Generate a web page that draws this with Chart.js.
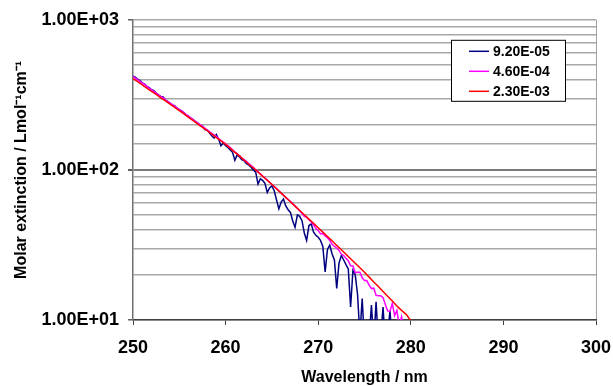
<!DOCTYPE html>
<html lang="en">
<head>
<meta charset="UTF-8">
<title>Molar extinction</title>
<style>
    body { margin: 0; background: #fff; }
    #wrap { width: 613px; height: 386px; position: relative; }
</style>
<script src="https://cdn.jsdelivr.net/npm/chart.js"></script>
</head>
<body>
<div id="wrap"><canvas id="chart"></canvas></div>
<script>
// wavelength grid (nm) used by the two noisy series
const wlFine = [
    250, 250.25, 250.5, 250.75, 251, 251.25, 251.5, 251.75, 252, 252.25, 252.5, 252.75,
    253, 253.25, 253.5, 253.75, 254, 254.25, 254.5, 254.75, 255, 255.25, 255.5, 255.75,
    256, 256.25, 256.5, 256.75, 257, 257.25, 257.5, 257.75, 258, 258.25, 258.5, 258.75,
    259, 259.25, 259.5, 259.75, 260, 260.25, 260.5, 260.75, 261, 261.25, 261.5, 261.75,
    262, 262.25, 262.5, 262.75, 263, 263.25, 263.5, 263.75, 264, 264.25, 264.5, 264.75,
    265, 265.25, 265.5, 265.75, 266, 266.25, 266.5, 266.75, 267, 267.25, 267.5, 267.75,
    268, 268.25, 268.5, 268.75, 269, 269.25, 269.5, 269.75, 270, 270.25, 270.5, 270.75,
    271, 271.25, 271.5, 271.75, 272, 272.25, 272.5, 272.75, 273, 273.25, 273.5, 273.75,
    274, 274.25, 274.5, 274.75, 275, 275.25, 275.5, 275.75, 276, 276.25, 276.5, 276.75,
    277, 277.25, 277.5, 277.75, 278, 278.25, 278.5, 278.75, 279, 279.25, 279.5, 279.75, 280
];

// 9.20E-05 (navy)
const seriesLow = [
    421, 415, 402, 393, 380, 373, 360, 353, 342, 337, 325, 316,
    309, 306, 292, 285, 279, 270, 268, 257, 252, 247, 240, 232,
    227, 221, 216, 210, 205, 198, 196, 186, 185, 177, 169, 163,
    172, 160, 145, 151, 145, 141, 136, 131, 116, 126, 122, 117,
    115, 110, 108, 104, 100, 96.6, 80.4, 87.1, 85.1, 81.3, 70.8, 75.9,
    78.3, 72.6, 63.1, 55.0, 61.0, 64.0, 57.5, 54.3, 52.1, 45.7, 41.5, 50.1,
    49.0, 45.9, 38.0, 33.9, 42.6, 43.7, 38.5, 36.7, 35.6, 33.9, 30.9, 20.9,
    29.5, 31.6, 27.5, 25.1, 16.2, 24.0, 26.9, 25.1, 23.4, 21.9, 12.2, 21.4,
    20.0, 14.8, 7.9, 13.9, 7.1, 7.9, 7.6, 12.6, 7.1, 13.2, 7.1, 7.6,
    12.2, 7.1, 7.9, 11.5, 7.1, null, null, null, null, null, null, null, null
];

// 4.60E-04 (magenta)
const seriesMid = [
    420, 409, 399, 389, 378, 372, 360, 351, 341, 334, 325, 316,
    308, 303, 293, 286, 279, 272, 266, 259, 252, 247, 240, 233,
    228, 221, 216, 210, 205, 200, 195, 190, 185, 180, 175, 171,
    167, 162, 157, 153, 149, 145, 141, 136, 132, 128, 124, 120,
    117, 114, 110, 107, 104, 100, 97.0, 94.0, 91.0, 88.3, 85.5, 82.8,
    80.2, 77.6, 75.0, 72.6, 70.1, 67.9, 65.6, 63.5, 61.5, 59.4, 57.4, 55.5,
    53.5, 51.4, 49.0, 48.3, 46.6, 44.9, 42.9, 40.9, 39.4, 37.6, 37.6, 36.3,
    35.3, 33.9, 32.0, 30.9, 30.2, 29.0, 27.5, 26.9, 25.8, 24.8, 23.0, 22.9,
    20.7, 20.8, 20.8, 19.1, 18.3, 18.3, 17.1, 16.2, 16.3, 14.6, 14.5, 14.5,
    14.1, 12.7, 11.5, 11.4, 12.9, 10.7, 11.6, 9.1, 10.5, 8.7, null, null, null
];

// wavelength grid (nm) for the smooth series
const wlRed = [
    250, 250.5, 251, 251.5, 252, 252.5, 253, 253.5, 254, 254.5, 255, 255.5,
    256, 256.5, 257, 257.5, 258, 258.5, 259, 259.5, 260, 260.5, 261, 261.5,
    262, 262.5, 263, 263.5, 264, 264.5, 265, 265.5, 266, 266.5, 267, 267.5,
    268, 268.5, 269, 269.5, 270, 270.5, 271, 271.5, 272, 272.5, 273, 273.5,
    274, 274.5, 275, 275.5, 276, 276.5, 277, 277.5, 278, 278.5, 279, 279.5, 280
];

// 2.30E-03 (red)
const seriesHigh = [
    406, 387, 368, 351, 333, 318, 302, 288, 274, 261, 248, 236,
    224, 213, 202, 192, 183, 173, 164, 156, 148, 139, 131, 124,
    116, 109, 103, 96.8, 90.8, 85.3, 80.0, 74.8, 70.0, 65.5, 61.4, 57.4,
    53.7, 50.2, 47.0, 44.1, 41.2, 38.5, 36.0, 33.7, 31.4, 29.4, 27.4, 25.6,
    23.9, 22.3, 20.8, 19.3, 17.9, 16.7, 15.5, 14.4, 13.4, 12.4, 11.6, 10.9, 9.9
];

const seriesLabels = ['9.20E-05', '4.60E-04', '2.30E-03'];
const seriesColors = ['#000080', '#ff00ff', '#ff0000'];
const xTicks = [250, 260, 270, 280, 290, 300];

function pairs(xs, ys) {
    return xs.map((x, i) => ({ x: x, y: ys[i] }));
}

function isDecade(v) {
    const e = Math.log10(v);
    return Math.abs(e - Math.round(e)) < 1e-9;
}

// boxed legend inside the plot, like the spreadsheet original
const boxLegend = {
    id: 'boxLegend',
    afterDraw(chart) {
        const { ctx, chartArea } = chart;
        const x = chartArea.right - 145, y = chartArea.top + 20, w = 114, h = 61;
        ctx.save();
        ctx.fillStyle = '#ffffff';
        ctx.fillRect(x, y, w, h);
        ctx.strokeStyle = '#000000';
        ctx.lineWidth = 1;
        ctx.strokeRect(x + 0.5, y + 0.5, w, h);
        ctx.font = "bold 14px 'Liberation Sans', Arial, sans-serif";
        ctx.textBaseline = 'middle';
        ctx.fillStyle = '#000000';
        chart.data.datasets.forEach((ds, i) => {
            const ly = y + 11.5 + i * 20;
            ctx.strokeStyle = ds.borderColor;
            ctx.lineWidth = 1.5;
            ctx.beginPath();
            ctx.moveTo(x + 18, ly);
            ctx.lineTo(x + 38, ly);
            ctx.stroke();
            ctx.fillText(ds.label, x + 42, ly + 1);
        });
        ctx.restore();
    }
};

Chart.defaults.font.family = "'Liberation Sans', Arial, sans-serif";
Chart.defaults.color = '#000000';

new Chart(document.getElementById('chart'), {
    type: 'line',
    data: {
        datasets: [
            { label: seriesLabels[0], data: pairs(wlFine, seriesLow), borderColor: seriesColors[0], order: 2 },
            { label: seriesLabels[1], data: pairs(wlFine, seriesMid), borderColor: seriesColors[1], order: 1 },
            { label: seriesLabels[2], data: pairs(wlRed, seriesHigh), borderColor: seriesColors[2], order: 0 }
        ]
    },
    options: {
        responsive: true,
        maintainAspectRatio: false,
        animation: false,
        layout: { padding: { top: 19, right: 17, left: 0, bottom: 0 } },
        elements: {
            point: { radius: 0 },
            line: { borderWidth: 1.5, tension: 0, fill: false }
        },
        plugins: {
            legend: { display: false },
            tooltip: { enabled: false }
        },
        scales: {
            x: {
                type: 'linear',
                min: 250,
                max: 300,
                afterBuildTicks: (scale) => { scale.ticks = xTicks.map(v => ({ value: v })); },
                afterFit: (scale) => {
                    scale.height = 66;
                    scale.paddingLeft = 0;
                    scale.paddingRight = 0;
                },
                ticks: { font: { size: 18, weight: 'bold' }, padding: 12, maxRotation: 0 },
                grid: {
                    color: (c) => (c.tick && c.tick.value === 300) ? '#a0a0a0' : 'rgba(0,0,0,0)',
                    tickColor: '#404040',
                    tickLength: 5
                },
                border: { color: '#404040', width: 1.5 },
                title: {
                    display: true,
                    text: 'Wavelength / nm',
                    font: { size: 16, weight: 'bold', lineHeight: 1 },
                    padding: 0
                }
            },
            y: {
                type: 'logarithmic',
                min: 10,
                max: 1000,
                afterFit: (scale) => { scale.width = 133; },
                ticks: {
                    autoSkip: false,
                    font: { size: 18, weight: 'bold' },
                    padding: 9,
                    callback: (v) => isDecade(v) ? '1.00E+' + String(Math.round(Math.log10(v))).padStart(2, '0') : ''
                },
                grid: {
                    color: (c) => (c.tick && c.tick.value === 100) ? '#7a7a7a' : '#a8a8a8',
                    lineWidth: (c) => (c.tick && c.tick.value === 100) ? 2 : 1.5,
                    tickColor: (c) => (c.tick && isDecade(c.tick.value)) ? '#606060' : 'rgba(0,0,0,0)',
                    tickLength: 5
                },
                border: { color: '#707070', width: 1.5 },
                title: {
                    display: true,
                    text: 'Molar extinction / Lmol\u207B\u00B9cm\u207B\u00B9',
                    font: { size: 16, weight: 'bold' },
                    padding: { top: 12, bottom: 0 }
                }
            }
        }
    },
    plugins: [boxLegend]
});
</script>
</body>
</html>
